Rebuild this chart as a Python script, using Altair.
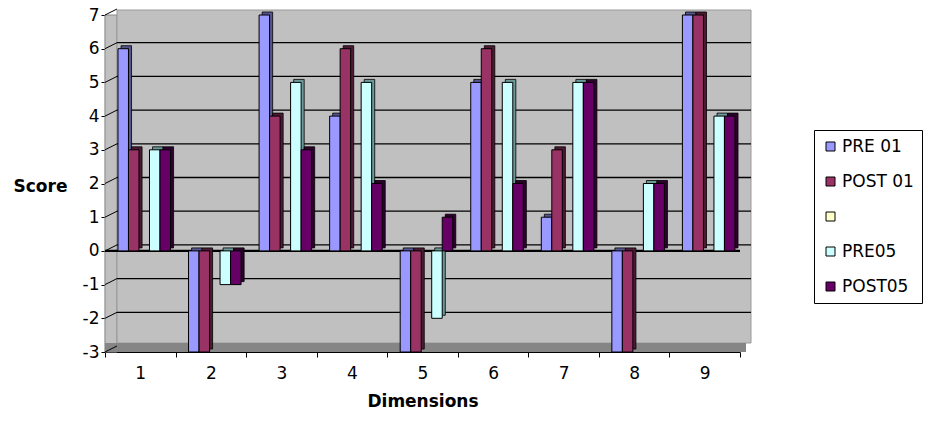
import altair as alt
import pandas as pd

# Scores per dimension for each survey round
dims = ["1", "2", "3", "4", "5", "6", "7", "8", "9"]
series = ["PRE 01", "POST 01", " ", "PRE05", "POST05"]
pre01 = [6, -3, 7, 4, -3, 5, 1, -3, 7]
post01 = [3, -3, 4, 6, -3, 6, 3, -3, 7]
pre05 = [3, -1, 5, 5, -2, 5, 5, 2, 4]
post05 = [3, -1, 3, 2, 1, 2, 5, 2, 4]

face_colors = ["#9999FF", "#993366", "#FFFFCC", "#CCFFFF", "#660066"]
side_colors = ["#55558F", "#4D1A33", "#8F8F6B", "#6B9999", "#2E002E"]
y_ticks = list(range(-3, 8))
grid_vals = list(range(-2, 7))

rows = []
for name, vals in [("PRE 01", pre01), ("POST 01", post01), ("PRE05", pre05), ("POST05", post05)]:
    for d, v in zip(dims, vals):
        rows.append({"dim": d, "series": name, "value": v,
                     "side": side_colors[series.index(name)]})
df = pd.DataFrame(rows)

W, H = 635, 337
DX, DY = 12, 6  # depth of the 3-D box
FONT = "DejaVu Sans"

y_scale = alt.Scale(domain=[-3, 7], nice=False, zero=False)
y_axis = alt.Axis(
    title="Score", values=y_ticks, grid=False, labelExpr="datum.value",
    domainColor="black", tickColor="black", tickSize=4, domainWidth=1.2,
    labelFont=FONT, labelFontSize=17, labelColor="black", labelPadding=2,
    titleFont=FONT, titleFontSize=17, titleFontWeight="bold", titleColor="black",
    titleAngle=0, titleAlign="center", titleBaseline="middle",
    titleX=-65, titleY=171,
)

one = alt.Chart(pd.DataFrame({"k": [0]}))
grid_df = pd.DataFrame({"v": grid_vals})
tick_df = pd.DataFrame({"v": y_ticks})

side_wall = one.mark_rect(fill="#C0C0C0", stroke="#8A8A8A", strokeWidth=1).encode(
    x=alt.value(0), x2=alt.value(DX), y=alt.value(0), y2=alt.value(H)
)
back_wall = one.mark_rect(fill="#C0C0C0", stroke="#9A9A9A", strokeWidth=1).encode(
    x=alt.value(DX), x2=alt.value(W + DX - 1), y=alt.value(-DY + 1), y2=alt.value(H - DY - 3)
)
floor = one.mark_rect(fill="#858585").encode(
    x=alt.value(0), x2=alt.value(W + 6), y=alt.value(H - 9), y2=alt.value(H)
)
grid = alt.Chart(grid_df).mark_rule(color="black", strokeWidth=1.3, yOffset=-DY).encode(
    x=alt.value(DX), x2=alt.value(W + DX - 1), y=alt.Y("v:Q", scale=y_scale, axis=y_axis)
)
stubs = alt.Chart(tick_df).mark_rule(color="black", strokeWidth=1, y2Offset=-DY).encode(
    x=alt.value(0), x2=alt.value(DX),
    y=alt.Y("v:Q", scale=y_scale, axis=y_axis), y2="v:Q"
)
zero_line = one.mark_rule(color="black", strokeWidth=2.2).encode(
    x=alt.value(0), x2=alt.value(W), y=alt.Y(datum=0, scale=y_scale, axis=y_axis)
)

x_enc = alt.X(
    "dim:N", sort=dims,
    scale=alt.Scale(domain=dims, paddingInner=0, paddingOuter=0),
    axis=alt.Axis(
        title="Dimensions", tickBand="extent", labelAngle=0,
        domainColor="black", tickColor="black", tickSize=5, domainWidth=1.2,
        labelFont=FONT, labelFontSize=17, labelColor="black", labelPadding=8,
        titleFont=FONT, titleFontSize=17, titleFontWeight="bold", titleColor="black",
        titlePadding=12,
    ),
)
y_enc = alt.Y("value:Q", scale=y_scale, stack=None, axis=y_axis)

# depth faces sit 3px right of and 3px above the front faces
bars_side = alt.Chart(df).mark_bar(
    stroke="black", strokeWidth=0.8, yOffset=-3, y2Offset=-3,
).encode(
    x=x_enc,
    xOffset=alt.XOffset("series:N", scale=alt.Scale(
        domain=series, paddingInner=0, paddingOuter=0.857, align=0.89)),
    y=y_enc, y2=alt.datum(0),
    fill=alt.Fill("side:N", scale=None),
)

bars_front = alt.Chart(df).mark_bar(stroke="black", strokeWidth=1).encode(
    x=x_enc,
    xOffset=alt.XOffset("series:N", scale=alt.Scale(
        domain=series, paddingInner=0, paddingOuter=0.857, align=0.72)),
    y=y_enc, y2=alt.datum(0),
    color=alt.Color(
        "series:N", scale=alt.Scale(domain=series, range=face_colors),
        legend=alt.Legend(
            title=None, orient="none", legendX=709, legendY=115,
            padding=8, rowPadding=17, symbolType="square", symbolSize=81,
            symbolStrokeColor="black", symbolStrokeWidth=1, symbolOpacity=1,
            labelFont=FONT, labelFontSize=17, labelColor="black", labelOffset=3,
            strokeColor="black", fillColor="white",
        ),
    ),
)

chart = alt.layer(
    side_wall, back_wall, grid, floor, stubs, zero_line, bars_side, bars_front
).resolve_scale(
    xOffset="independent"
).properties(
    width=W, height=H,
    autosize=alt.AutoSizeParams(type="none"),
    padding={"left": 105, "top": 15, "right": 192, "bottom": 74},
).configure_view(stroke=None)

chart.save("out.html", embed_options={"renderer": "svg", "actions": False})
